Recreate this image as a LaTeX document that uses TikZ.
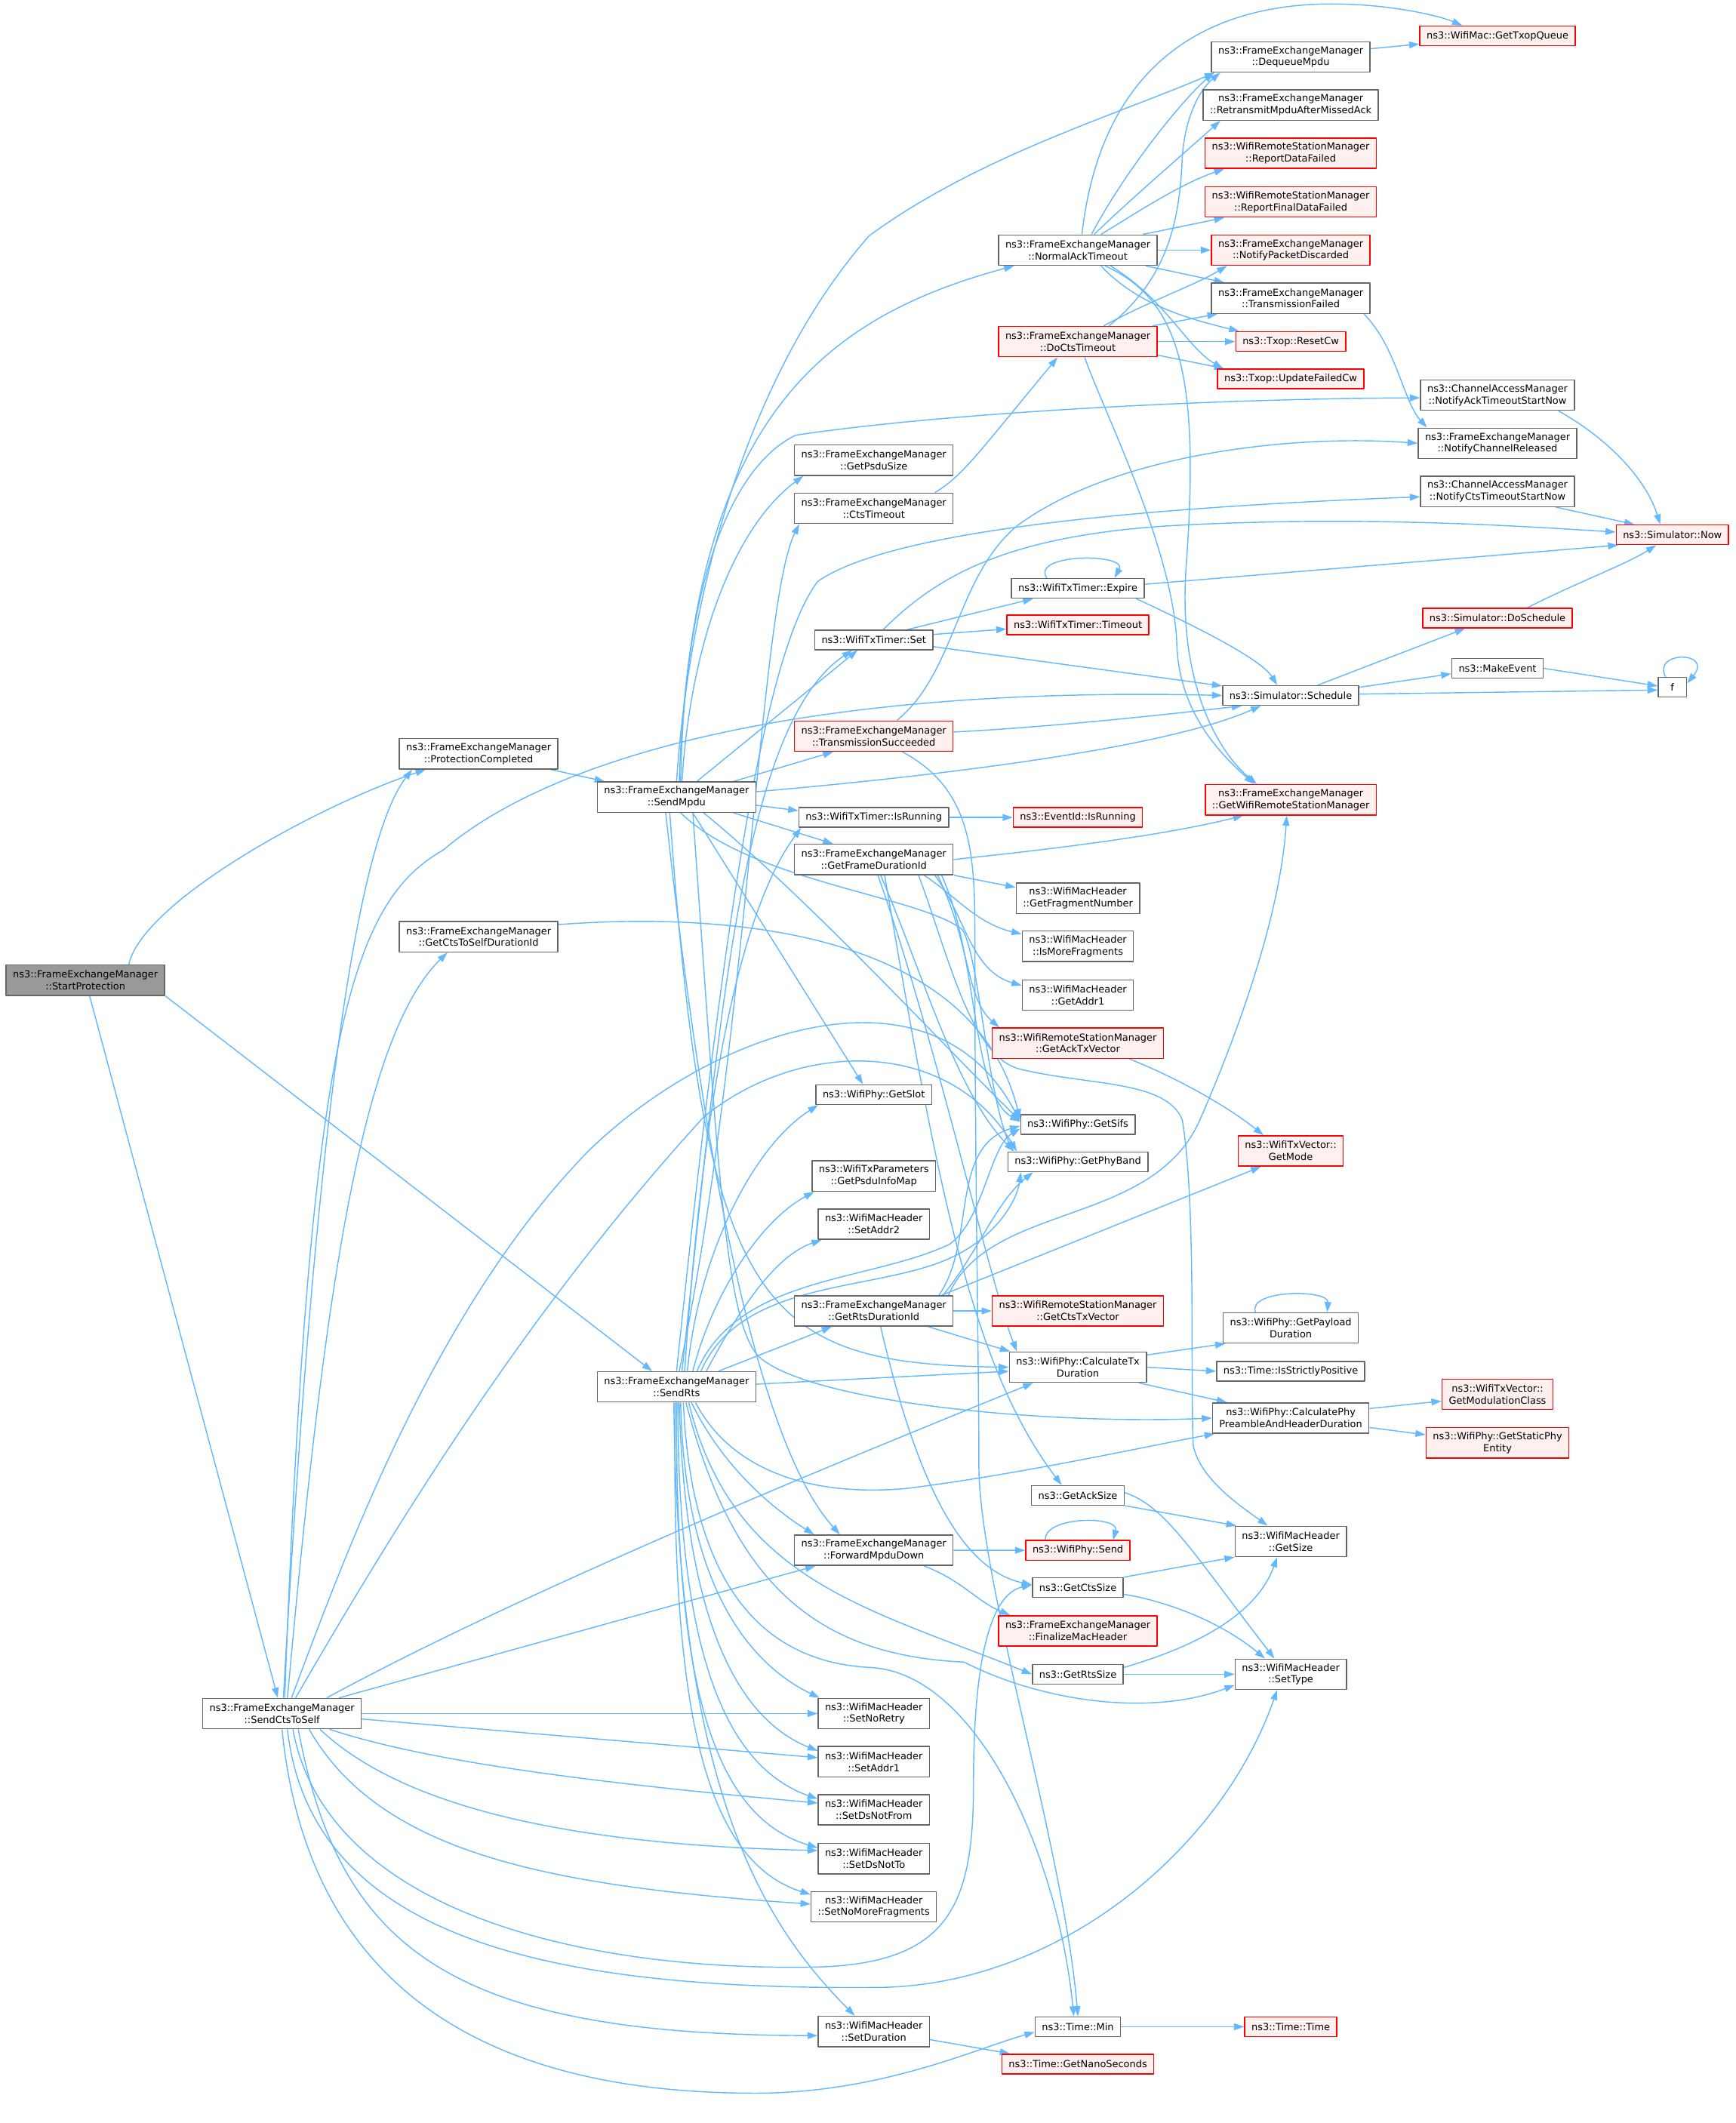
\documentclass[tikz,border=0pt]{standalone}
\usepackage{fontspec}
\newfontfamily\dejavu{DejaVu Sans}
\usetikzlibrary{arrows.meta,backgrounds}
\definecolor{edgeblue}{HTML}{63B8FF}
\definecolor{boxgray}{HTML}{666666}
\definecolor{hotred}{HTML}{FF0000}
\definecolor{hotfill}{HTML}{FFF0F0}
\definecolor{rootfill}{HTML}{999999}
\begin{document}
\begin{tikzpicture}[x=1pt, y=1pt, line join=round, line cap=round, >={Triangle[length=7.5pt,width=5pt]},
	fn/.style={draw=boxgray, fill=white, line width=0.8pt, align=center, inner xsep=5pt, inner ysep=1pt, minimum height=22.4pt, font=\dejavu\fontsize{7.2}{8.8}\selectfont},
	fn1/.style={fn, minimum height=14.5pt},
	hot/.style={draw=hotred, fill=hotfill},
	rootbox/.style={fill=rootfill},
	call/.style={->, draw=edgeblue, line width=0.8pt}]
	\useasboundingbox (0,0) rectangle (1280,1566);
	\node[fn, rootbox] (root) at (63,843) {ns3::FrameExchangeManager\\::StartProtection};
	\node[fn] (pc) at (353,1010) {ns3::FrameExchangeManager\\::ProtectionCompleted};
	\node[fn] (ctsselfdur) at (353,875) {ns3::FrameExchangeManager\\::GetCtsToSelfDurationId};
	\node[fn] (sendcts) at (208,302) {ns3::FrameExchangeManager\\::SendCtsToSelf};
	\node[fn] (sendmpdu) at (499,978) {ns3::FrameExchangeManager\\::SendMpdu};
	\node[fn] (sendrts) at (499,543) {ns3::FrameExchangeManager\\::SendRts};
	\node[fn] (psdusize) at (644.5,1226.5) {ns3::FrameExchangeManager\\::GetPsduSize};
	\node[fn] (ctstimeout) at (644.5,1191) {ns3::FrameExchangeManager\\::CtsTimeout};
	\node[fn1] (set) at (644.5,1094) {ns3::WifiTxTimer::Set};
	\node[fn, hot] (txsucc) at (644.5,1023) {ns3::FrameExchangeManager\\::TransmissionSucceeded};
	\node[fn1] (isrunning) at (644.5,963) {ns3::WifiTxTimer::IsRunning};
	\node[fn] (framedur) at (644.5,932) {ns3::FrameExchangeManager\\::GetFrameDurationId};
	\node[fn1] (getslot) at (644.5,758.5) {ns3::WifiPhy::GetSlot};
	\node[fn] (psduinfo) at (644.5,698.5) {ns3::WifiTxParameters\\::GetPsduInfoMap};
	\node[fn] (setaddr2) at (644.5,663) {ns3::WifiMacHeader\\::SetAddr2};
	\node[fn] (rtsdur) at (644.5,599) {ns3::FrameExchangeManager\\::GetRtsDurationId};
	\node[fn] (fwd) at (644.5,422.5) {ns3::FrameExchangeManager\\::ForwardMpduDown};
	\node[fn] (setnoretry) at (644.5,302) {ns3::WifiMacHeader\\::SetNoRetry};
	\node[fn] (setaddr1) at (644.5,266.5) {ns3::WifiMacHeader\\::SetAddr1};
	\node[fn] (setdsnotfrom) at (644.5,231) {ns3::WifiMacHeader\\::SetDsNotFrom};
	\node[fn] (setdsnotto) at (644.5,195) {ns3::WifiMacHeader\\::SetDsNotTo};
	\node[fn] (setnomore) at (644.5,159.5) {ns3::WifiMacHeader\\::SetNoMoreFragments};
	\node[fn] (setduration) at (644.5,67.5) {ns3::WifiMacHeader\\::SetDuration};
	\node[fn] (normalack) at (795,1381.5) {ns3::FrameExchangeManager\\::NormalAckTimeout};
	\node[fn, hot] (docts) at (795,1314) {ns3::FrameExchangeManager\\::DoCtsTimeout};
	\node[fn1] (expire) at (795,1132) {ns3::WifiTxTimer::Expire};
	\node[fn1, hot] (timeout) at (795,1105) {ns3::WifiTxTimer::Timeout};
	\node[fn1, hot] (evrunning) at (795,963) {ns3::EventId::IsRunning};
	\node[fn] (fragnum) at (795,903.4) {ns3::WifiMacHeader\\::GetFragmentNumber};
	\node[fn] (ismore) at (795,868) {ns3::WifiMacHeader\\::IsMoreFragments};
	\node[fn] (getaddr1) at (795,832) {ns3::WifiMacHeader\\::GetAddr1};
	\node[fn, hot] (acktxv) at (795,796.5) {ns3::WifiRemoteStationManager\\::GetAckTxVector};
	\node[fn1] (getsifs) at (795,736.5) {ns3::WifiPhy::GetSifs};
	\node[fn1] (phyband) at (795,709) {ns3::WifiPhy::GetPhyBand};
	\node[fn, hot] (ctstxv) at (795,599) {ns3::WifiRemoteStationManager\\::GetCtsTxVector};
	\node[fn] (calctx) at (795,557.5) {ns3::WifiPhy::CalculateTx\\Duration};
	\node[fn1] (acksize) at (795,463) {ns3::GetAckSize};
	\node[fn1, hot] (physend) at (795,422.4) {ns3::WifiPhy::Send};
	\node[fn1] (ctssize) at (795,395) {ns3::GetCtsSize};
	\node[fn, hot] (finalize) at (795,363) {ns3::FrameExchangeManager\\::FinalizeMacHeader};
	\node[fn1] (rtssize) at (795,331) {ns3::GetRtsSize};
	\node[fn1] (tmin) at (795,71) {ns3::Time::Min};
	\node[fn1, hot] (nanosec) at (795,43.5) {ns3::Time::GetNanoSeconds};
	\node[fn] (dequeue) at (952,1524) {ns3::FrameExchangeManager\\::DequeueMpdu};
	\node[fn] (retransmit) at (952,1488.5) {ns3::FrameExchangeManager\\::RetransmitMpduAfterMissedAck};
	\node[fn, hot] (reportdf) at (952,1453) {ns3::WifiRemoteStationManager\\::ReportDataFailed};
	\node[fn, hot] (reportfdf) at (952,1417) {ns3::WifiRemoteStationManager\\::ReportFinalDataFailed};
	\node[fn, hot] (notifydisc) at (952,1381.5) {ns3::FrameExchangeManager\\::NotifyPacketDiscarded};
	\node[fn] (txfailed) at (952,1346) {ns3::FrameExchangeManager\\::TransmissionFailed};
	\node[fn1, hot] (resetcw) at (952,1314) {ns3::Txop::ResetCw};
	\node[fn1, hot] (updcw) at (952,1286.5) {ns3::Txop::UpdateFailedCw};
	\node[fn1] (schedule) at (952,1053) {ns3::Simulator::Schedule};
	\node[fn, hot] (getrsm) at (952,976) {ns3::FrameExchangeManager\\::GetWifiRemoteStationManager};
	\node[fn, hot] (getmode) at (952,717) {ns3::WifiTxVector::\\GetMode};
	\node[fn] (payload) at (952,586.5) {ns3::WifiPhy::GetPayload\\Duration};
	\node[fn1] (strictpos) at (952,554.5) {ns3::Time::IsStrictlyPositive};
	\node[fn] (preamble) at (952,520) {ns3::WifiPhy::CalculatePhy\\PreambleAndHeaderDuration};
	\node[fn] (getsize) at (952,429) {ns3::WifiMacHeader\\::GetSize};
	\node[fn] (settype) at (952,331) {ns3::WifiMacHeader\\::SetType};
	\node[fn1, hot] (timetime) at (952,71) {ns3::Time::Time};
	\node[fn1, hot] (txopqueue) at (1104.5,1539.5) {ns3::WifiMac::GetTxopQueue};
	\node[fn] (ackstart) at (1104.5,1274.5) {ns3::ChannelAccessManager\\::NotifyAckTimeoutStartNow};
	\node[fn] (chreleased) at (1104.5,1239) {ns3::FrameExchangeManager\\::NotifyChannelReleased};
	\node[fn] (ctsstart) at (1104.5,1203.5) {ns3::ChannelAccessManager\\::NotifyCtsTimeoutStartNow};
	\node[fn1, hot] (dosched) at (1104.5,1110) {ns3::Simulator::DoSchedule};
	\node[fn1] (makeevent) at (1104.5,1073) {ns3::MakeEvent};
	\node[fn, hot] (modclass) at (1104.5,537.5) {ns3::WifiTxVector::\\GetModulationClass};
	\node[fn, hot] (staticphy) at (1104.5,501.7) {ns3::WifiPhy::GetStaticPhy\\Entity};
	\node[fn1, hot] (now) at (1233.5,1171.5) {ns3::Simulator::Now};
	\node[fn1, minimum width=21pt] (f) at (1233.5,1059) {f};
	\begin{scope}[on background layer]
		\draw[call] ([xshift=32pt]root.north) .. controls (105,900) and (230,970) .. ([xshift=-39pt]pc.south);
		\draw[call] (root.south east) -- ([xshift=-18pt]sendrts.north);
		\draw[call] (root) -- (sendcts);
		\draw[call] ([xshift=1pt]sendcts.north) .. controls (228,650) and (255,935) .. ([xshift=-49pt]pc.south);
		\draw[call] ([xshift=4pt]sendcts.north) .. controls (238,600) and (265,800) .. ([xshift=-23pt]ctsselfdur.south);
		\draw[call] ([xshift=2pt]sendcts.north) .. controls (228,800) and (258,900) .. (327,939) .. controls (410,1010) and (600,1060) .. (schedule.west);
		\draw[call] ([xshift=7pt]sendcts.north) .. controls (255,420) and (320,600) .. (434,717) .. controls (530,810) and (690,860) .. ([yshift=2pt]getsifs.west);
		\draw[call] ([xshift=10pt]sendcts.north) .. controls (280,420) and (380,590) .. (519,742) .. controls (590,800) and (700,800) .. ([xshift=-45pt]phyband.north);
		\draw[call] ([xshift=33pt]sendcts.north) .. controls (400,400) and (650,500) .. ([xshift=-33pt]calctx.south);
		\draw[call] ([xshift=42pt]sendcts.north) -- ([xshift=-43pt]fwd.south);
		\draw[call] (sendcts.east) -- (setnoretry.west);
		\draw[call] ([yshift=-4pt]sendcts.east) -- ([yshift=3pt]setaddr1.west);
		\draw[call] ([xshift=35pt]sendcts.south) .. controls (320,265) and (450,250) .. ([yshift=5pt]setdsnotfrom.west);
		\draw[call] ([xshift=28pt]sendcts.south) .. controls (300,230) and (430,205) .. ([yshift=6pt]setdsnotto.west);
		\draw[call] ([xshift=20pt]sendcts.south) .. controls (280,200) and (400,175) .. ([yshift=2pt]setnomore.west);
		\draw[call] ([xshift=12pt]sendcts.south) .. controls (250,130) and (330,65) .. ([yshift=-3pt]setduration.west);
		\draw[call] ([xshift=8pt]sendcts.south) .. controls (240,160) and (420,112) .. (600,115) .. controls (700,117) and (718,160) .. (718,250) .. controls (718,340) and (730,390) .. ([yshift=2pt]ctssize.west);
		\draw[call] ([xshift=4pt]sendcts.south) .. controls (230,130) and (420,98) .. (649,100) .. controls (780,102) and (900,200) .. ([xshift=-10pt]settype.south);
		\draw[call] (sendcts.south) .. controls (230,70) and (400,22) .. (557,22) .. controls (650,22) and (720,55) .. ([yshift=-4pt]tmin.west);
		\draw[call] (pc) -- (sendmpdu);
		\draw[call] ([yshift=9pt]ctsselfdur.east) .. controls (560,895) and (720,870) .. ([yshift=4pt]getsifs.west);
		\draw[call] (sendmpdu.north) .. controls (510,1150) and (560,1300) .. (641,1392) .. controls (720,1450) and (820,1480) .. ([xshift=-56pt]dequeue.south);
		\draw[call] ([xshift=2pt]sendmpdu.north) .. controls (510,1250) and (600,1330) .. ([xshift=-47pt]normalack.south);
		\draw[call] ([xshift=3pt]sendmpdu.north) .. controls (505,1150) and (545,1225) .. (587,1245) .. controls (700,1262) and (900,1272) .. ([yshift=-2pt]ackstart.west);
		\draw[call] ([xshift=4pt]sendmpdu.north) .. controls (510,1100) and (545,1180) .. ([xshift=-52pt]psdusize.south);
		\draw[call] ([xshift=15pt]sendmpdu.north) -- ([xshift=-12pt]set.south);
		\draw[call] ([xshift=42pt]sendmpdu.north) -- ([xshift=-30pt]txsucc.south);
		\draw[call] ([yshift=4pt]sendmpdu.east) .. controls (650,990) and (850,1010) .. ([xshift=-22pt]schedule.south);
		\draw[call] ([yshift=-6pt]sendmpdu.east) -- ([yshift=5pt]isrunning.west);
		\draw[call] ([xshift=42pt]sendmpdu.south) -- ([xshift=-30pt]framedur.north);
		\draw[call] ([xshift=12pt]sendmpdu.south) -- ([xshift=-8pt]getslot.north);
		\draw[call] ([xshift=20pt]sendmpdu.south) .. controls (600,900) and (700,790) .. ([yshift=3pt]getsifs.west);
		\draw[call] ([xshift=3pt]sendmpdu.south) .. controls (555,915) and (680,905) .. (710,880) .. controls (722,860) and (728,760) .. ([xshift=-48pt]phyband.north);
		\draw[call] ([xshift=-5pt]sendmpdu.south) .. controls (520,600) and (560,560) .. (calctx.west);
		\draw[call] ([xshift=12pt]sendmpdu.south) .. controls (530,700) and (535,590) .. (560,565) .. controls (600,530) and (780,515) .. (preamble.west);
		\draw[call] ([xshift=-8pt]sendmpdu.south) .. controls (520,700) and (560,500) .. ([xshift=-25pt]fwd.north);
		\draw[call] (sendrts.north) .. controls (530,850) and (560,1080) .. (603,1137) .. controls (650,1170) and (800,1190) .. ([yshift=-4pt]ctsstart.west);
		\draw[call] ([xshift=2pt]sendrts.north) .. controls (552,800) and (560,1120) .. ([xshift=-55pt]ctstimeout.south);
		\draw[call] ([xshift=4pt]sendrts.north) .. controls (530,800) and (545,1030) .. ([xshift=-16pt]set.south);
		\draw[call] ([xshift=6pt]sendrts.north) .. controls (520,780) and (550,900) .. ([xshift=2pt]isrunning.south west);
		\draw[call] ([xshift=8pt]sendrts.north) .. controls (515,640) and (555,720) .. ([xshift=2pt]getslot.south west);
		\draw[call] ([xshift=12pt]sendrts.north) .. controls (525,610) and (560,665) .. ([xshift=2pt]psduinfo.south west);
		\draw[call] ([xshift=15pt]sendrts.north) .. controls (545,625) and (640,620) .. (700,648) .. controls (725,665) and (730,720) .. ([yshift=-3pt]getsifs.west);
		\draw[call] ([xshift=18pt]sendrts.north) .. controls (548,625) and (650,612) .. (705,640) .. controls (735,655) and (750,680) .. ([xshift=-42pt]phyband.south);
		\draw[call] ([xshift=22pt]sendrts.north) .. controls (545,600) and (572,640) .. ([xshift=3pt]setaddr2.south west);
		\draw[call] ([xshift=31pt]sendrts.north) -- ([xshift=-31pt]rtsdur.south);
		\draw[call] ([yshift=2pt]sendrts.east) -- ([yshift=-3pt]calctx.west);
		\draw[call] ([xshift=14pt]sendrts.south) .. controls (540,480) and (600,462) .. (668,468) .. controls (750,478) and (850,500) .. ([xshift=2pt]preamble.south west);
		\draw[call] ([xshift=11pt]sendrts.south) .. controls (535,480) and (575,450) .. ([xshift=-44pt]fwd.north);
		\draw[call] ([xshift=9pt]sendrts.south) .. controls (540,400) and (640,380) .. (rtssize.west);
		\draw[call] ([xshift=7pt]sendrts.south) .. controls (540,400) and (600,345) .. (711,340) .. controls (770,310) and (850,300) .. ([yshift=-8pt]settype.west);
		\draw[call] ([xshift=5pt]sendrts.south) .. controls (510,400) and (560,340) .. (642,336) .. controls (720,332) and (780,200) .. ([xshift=-3pt]tmin.north);
		\draw[call] ([xshift=3pt]sendrts.south) .. controls (505,400) and (550,340) .. ([xshift=-40pt]setnoretry.north);
		\draw[call] ([xshift=2pt]sendrts.south) .. controls (505,380) and (540,300) .. ([yshift=8pt]setaddr1.west);
		\draw[call] ([xshift=1pt]sendrts.south) .. controls (500,360) and (530,265) .. ([yshift=8pt]setdsnotfrom.west);
		\draw[call] (sendrts.south) .. controls (498,340) and (520,228) .. ([yshift=8pt]setdsnotto.west);
		\draw[call] ([xshift=-1pt]sendrts.south) .. controls (495,320) and (515,195) .. ([yshift=9pt]setnomore.west);
		\draw[call] ([xshift=-2pt]sendrts.south) .. controls (500,250) and (560,150) .. ([xshift=-14pt]setduration.north);
		\draw[call] ([xshift=25pt]set.north) -- ([xshift=-33pt]expire.south);
		\draw[call] ([yshift=4pt]set.east) -- ([yshift=-3pt]timeout.west);
		\draw[call] ([yshift=-5pt]set.east) -- ([yshift=7pt]schedule.west);
		\draw[call] ([xshift=7pt]set.north) .. controls (690,1140) and (740,1170) .. (860,1178) .. controls (1000,1186) and (1120,1178) .. ([yshift=2pt]now.west);
		\draw[call] ([xshift=-23pt]expire.north) .. controls (760,1158) and (832,1158) .. ([xshift=27pt]expire.north);
		\draw[call] ([yshift=3pt]expire.east) -- ([xshift=-40pt]now.south);
		\draw[call] ([xshift=43pt]expire.south) .. controls (880,1105) and (930,1080) .. ([xshift=-10pt]schedule.north);
		\draw[call] (isrunning) -- (evrunning);
		\draw[call] ([xshift=45pt]ctstimeout.north) .. controls (710,1215) and (720,1230) .. ([xshift=-15pt]docts.south);
		\draw[call] ([xshift=17pt]txsucc.north) .. controls (705,1070) and (705,1140) .. (750,1178) .. controls (820,1230) and (950,1246) .. (chreleased.west);
		\draw[call] ([yshift=3pt]txsucc.east) .. controls (780,1030) and (870,1040) .. ([xshift=-36pt]schedule.south);
		\draw[call] ([xshift=21pt]txsucc.south) .. controls (715,985) and (719,940) .. (719,880) .. controls (719,700) and (722,560) .. (722,485) .. controls (722,400) and (785,200) .. (tmin.north);
		\draw[call] ([xshift=3pt]normalack.north) .. controls (810,1500) and (870,1560) .. (975,1563) .. controls (1020,1564) and (1060,1555) .. ([xshift=-26pt]txopqueue.north);
		\draw[call] ([xshift=10pt]normalack.north) .. controls (830,1440) and (870,1490) .. ([xshift=2pt]dequeue.south west);
		\draw[call] ([xshift=12pt]normalack.north) .. controls (835,1420) and (870,1450) .. ([xshift=-52pt]retransmit.south);
		\draw[call] ([xshift=17pt]normalack.north) .. controls (840,1410) and (870,1430) .. ([xshift=-49pt]reportdf.south);
		\draw[call] ([xshift=48pt]normalack.north) -- ([xshift=-49pt]reportfdf.south);
		\draw[call] (normalack) -- (notifydisc);
		\draw[call] ([xshift=50pt]normalack.south) -- ([xshift=-49pt]txfailed.north);
		\draw[call] ([xshift=17pt]normalack.south) .. controls (840,1340) and (880,1330) .. ([xshift=-38pt]resetcw.north);
		\draw[call] ([xshift=24pt]normalack.south) .. controls (860,1345) and (875,1310) .. ([xshift=-50pt]updcw.north);
		\draw[call] ([xshift=20pt]normalack.south) .. controls (870,1345) and (885,1290) .. (875,1150) .. controls (868,1060) and (900,1010) .. ([xshift=-25pt]getrsm.north);
		\draw[call] ([xshift=19pt]docts.north) .. controls (850,1345) and (880,1355) .. ([xshift=-47pt]notifydisc.south);
		\draw[call] ([xshift=23pt]docts.north) .. controls (860,1360) and (870,1400) .. (872,1450) .. controls (874,1480) and (885,1500) .. ([xshift=-52pt]dequeue.south);
		\draw[call] ([xshift=55pt]docts.north) -- ([xshift=-54pt]txfailed.south);
		\draw[call] (docts) -- (resetcw);
		\draw[call] ([yshift=-10pt]docts.east) -- ([xshift=-49pt]updcw.north);
		\draw[call] ([xshift=5pt]docts.south) .. controls (815,1260) and (866,1160) .. (868,1090) .. controls (870,1040) and (900,1010) .. ([xshift=-27pt]getrsm.north);
		\draw[call] ([xshift=54pt]txfailed.south) .. controls (1030,1310) and (1035,1270) .. ([xshift=-52pt]chreleased.north);
		\draw[call] ([yshift=6pt]dequeue.east) -- ([yshift=-6pt]txopqueue.west);
		\draw[call] ([xshift=45pt]ackstart.south) .. controls (1190,1240) and (1215,1210) .. ([xshift=-9pt]now.north);
		\draw[call] ([xshift=43pt]ctsstart.south) -- ([xshift=-28pt]now.north);
		\draw[call] ([xshift=22pt]dosched.north) .. controls (1160,1135) and (1200,1150) .. ([xshift=-12pt]now.south);
		\draw[call] ([xshift=20pt]schedule.north) -- ([xshift=-24pt]dosched.south);
		\draw[call] ([yshift=6pt]schedule.east) -- ([yshift=-4pt]makeevent.west);
		\draw[call] ([yshift=1pt]schedule.east) -- ([yshift=-2pt]f.west);
		\draw[call] (makeevent.east) -- ([yshift=1pt]f.west);
		\draw[call] ([xshift=-5pt]f.north) .. controls (1218,1086) and (1264,1086) .. ([yshift=3pt]f.east);
		\draw[call] (framedur.east) .. controls (780,940) and (860,950) .. ([xshift=-35pt]getrsm.south);
		\draw[call] (framedur.south east) -- ([yshift=8pt]fragnum.west);
		\draw[call] ([xshift=37pt]framedur.south) .. controls (705,905) and (720,885) .. ([yshift=9pt]ismore.west);
		\draw[call] ([xshift=45pt]framedur.south) .. controls (712,890) and (716,850) .. ([yshift=7pt]getaddr1.west);
		\draw[call] ([xshift=47pt]framedur.south) .. controls (716,870) and (712,830) .. ([xshift=-58pt]acktxv.north);
		\draw[call] ([xshift=50pt]framedur.south) .. controls (722,860) and (716,760) .. ([yshift=2pt]getsifs.west);
		\draw[call] ([xshift=5pt]framedur.south) .. controls (680,850) and (705,760) .. ([xshift=-47pt]phyband.north);
		\draw[call] ([xshift=3pt]framedur.south) .. controls (690,800) and (730,620) .. ([xshift=-45pt]calctx.north);
		\draw[call] ([xshift=8pt]framedur.south) .. controls (690,700) and (715,560) .. ([xshift=-12pt]acksize.north);
		\draw[call] ([xshift=33pt]framedur.south) .. controls (700,860) and (715,790) .. (750,778) .. controls (800,765) and (860,770) .. (872,740) .. controls (882,680) and (878,560) .. (880,500) .. controls (885,475) and (915,455) .. ([xshift=-17pt]getsize.north);
		\draw[call] ([xshift=55pt]rtsdur.north) .. controls (730,680) and (850,660) .. (885,740) .. controls (920,820) and (945,900) .. ([xshift=-3pt]getrsm.south);
		\draw[call] (rtsdur) -- (ctstxv);
		\draw[call] ([xshift=50pt]rtsdur.north) -- ([xshift=-22pt]getmode.south);
		\draw[call] ([xshift=48pt]rtsdur.north) .. controls (720,650) and (700,720) .. ([yshift=-1pt]getsifs.west);
		\draw[call] ([xshift=51pt]rtsdur.north) .. controls (720,640) and (735,680) .. ([xshift=-33pt]phyband.south);
		\draw[call] ([xshift=40pt]rtsdur.south) -- ([xshift=-50pt]calctx.north);
		\draw[call] ([xshift=5pt]rtsdur.south) .. controls (670,500) and (700,410) .. ([yshift=2pt]ctssize.west);
		\draw[call] ([yshift=9pt]calctx.east) -- ([xshift=2pt]payload.south west);
		\draw[call] (calctx.east) -- (strictpos.west);
		\draw[call] ([xshift=45pt]calctx.south) -- ([xshift=-47pt]preamble.north);
		\draw[call] ([xshift=-26pt]payload.north) .. controls (920,615) and (980,615) .. ([xshift=27pt]payload.north);
		\draw[call] ([yshift=7pt]preamble.east) -- ([yshift=-5pt]modclass.west);
		\draw[call] ([yshift=-7pt]preamble.east) -- ([yshift=6pt]staticphy.west);
		\draw[call] ([xshift=38pt]acktxv.south) .. controls (870,770) and (905,750) .. ([xshift=-20pt]getmode.north);
		\draw[call] (acksize.south east) -- ([xshift=-40pt]getsize.north);
		\draw[call] ([yshift=2pt]acksize.east) .. controls (860,455) and (880,420) .. ([xshift=-12pt]settype.north);
		\draw[call] ([xshift=34pt]ctssize.north) -- (getsize.south west);
		\draw[call] ([yshift=-5pt]ctssize.east) .. controls (860,385) and (900,370) .. ([xshift=-19pt]settype.north);
		\draw[call] ([yshift=5pt]rtssize.east) .. controls (870,348) and (925,370) .. ([xshift=-10pt]getsize.south);
		\draw[call] (rtssize) -- (settype);
		\draw[call] (fwd) -- (physend);
		\draw[call] ([xshift=37pt]fwd.south) .. controls (710,400) and (720,385) .. ([xshift=-50pt]finalize.north);
		\draw[call] ([xshift=-24pt]physend.north) .. controls (770,448) and (826,448) .. ([xshift=26pt]physend.north);
		\draw[call] ([yshift=-6pt]setduration.east) -- ([xshift=-50pt]nanosec.north);
		\draw[call] (tmin) -- (timetime);
	\end{scope}
\end{tikzpicture}
\end{document}
